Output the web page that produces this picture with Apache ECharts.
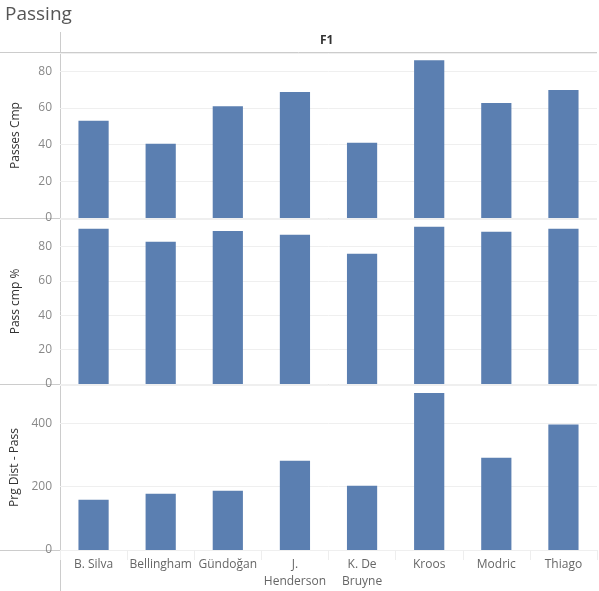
<!DOCTYPE html>
<html>
<head>
<meta charset="utf-8">
<script src="https://cdn.jsdelivr.net/npm/echarts@6/dist/echarts.min.js"></script>
<style>
  html, body { margin: 0; padding: 0; background: #fff; }
  #chart { width: 599px; height: 591px; }
</style>
</head>
<body>
<div id="chart"></div>
<script>
// Players (x categories)
const players = ['B. Silva', 'Bellingham', 'Gündoğan', 'J.\nHenderson', 'K. De\nBruyne', 'Kroos', 'Modric', 'Thiago'];

// Measures
const passesCmp = [53, 40.5, 61, 68.7, 41, 86, 62.7, 69.8];
const passCmpPct = [90.4, 82.8, 89, 86.9, 75.8, 91.5, 88.6, 90.4];
const prgDistPass = [159, 178, 187, 282, 203, 496, 291, 396];

const panelNames = ['Passes Cmp', 'Pass cmp %', 'Prg Dist - Pass'];
const panelMax = [90, 96, 521];
const panelInterval = [20, 20, 200];

const barColor = '#5b7fb1';
const lineColor = '#cccccc';
const font = 'Open Sans';

const chart = echarts.init(document.getElementById('chart'), null, { renderer: 'canvas' });

const grids = [
    { left: 60, right: 2, top: 53, height: 165 },
    { left: 60, right: 2, top: 219, height: 165 },
    { left: 60, right: 2, top: 385, height: 165 }
];

const xAxes = grids.map((g, i) => ({
    type: 'category',
    gridIndex: i,
    data: players,
    axisLine: { show: false },
    axisTick: { show: i === 2, length: 10, lineStyle: { color: '#eeeeee' }, alignWithLabel: false },
    axisLabel: {
        show: i === 2,
        color: '#666',
        fontFamily: font,
        fontSize: 12,
        lineHeight: 17,
        interval: 0,
        margin: 6
    }
}));

const yAxes = grids.map((g, i) => ({
    type: 'value',
    gridIndex: i,
    min: 0,
    max: panelMax[i],
    interval: panelInterval[i],
    name: panelNames[i],
    nameLocation: 'middle',
    nameGap: 38,
    nameTextStyle: { color: '#333', fontFamily: font, fontSize: 12 },
    axisLine: { show: false },
    axisTick: { show: false },
    axisLabel: {
        color: '#888',
        fontFamily: font,
        fontSize: 12,
        margin: 8,
        showMaxLabel: false,
        verticalAlign: 'middle'
    },
    splitLine: { lineStyle: { color: '#efefef' } }
}));

const dataSets = [passesCmp, passCmpPct, prgDistPass];
const series = dataSets.map((d, i) => ({
    type: 'bar',
    xAxisIndex: i,
    yAxisIndex: i,
    data: d,
    barWidth: '45%',
    itemStyle: { color: barColor },
    silent: true
}));

const hLine = (y, x1, x2) => ({
    type: 'line',
    shape: { x1: x1, y1: y, x2: x2, y2: y },
    style: { stroke: lineColor, lineWidth: 1 }
});

chart.setOption({
    backgroundColor: '#fff',
    animation: false,
    title: {
        text: 'Passing',
        left: 0,
        top: 0,
        textStyle: { color: '#555', fontFamily: font, fontSize: 19, fontWeight: 'normal' }
    },
    grid: grids,
    xAxis: xAxes,
    yAxis: yAxes,
    series: series,
    graphic: [
        { type: 'line', shape: { x1: 60.5, y1: 32, x2: 60.5, y2: 591 }, style: { stroke: lineColor, lineWidth: 1 } },
        hLine(52.5, 0, 597),
        hLine(218.5, 0, 597),
        hLine(384.5, 0, 597),
        hLine(550.5, 0, 597),
        {
            type: 'text',
            left: 320,
            top: 35,
            style: { text: 'F1', fill: '#333', font: 'bold 12px "Open Sans"' }
        }
    ]
});
</script>
</body>
</html>
